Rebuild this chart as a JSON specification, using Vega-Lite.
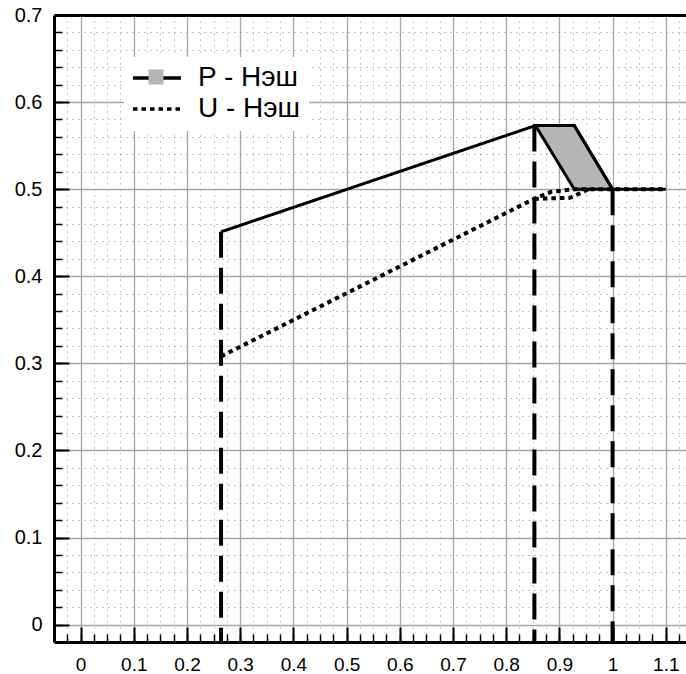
{
  "$schema": "https://vega.github.io/schema/vega-lite/v6.json",
  "width": 632,
  "height": 627,
  "autosize": "none",
  "padding": {"left": 54, "top": 15, "right": 0, "bottom": 32},
  "background": "white",
  "config": {
    "view": {"stroke": null},
    "font": "Liberation Sans",
    "axis": {"labelFont": "Liberation Sans", "labelColor": "black", "labelFlush": false, "labelOverlap": false, "title": null}
  },
  "layer": [
    {
      "data": {"values": [
        {"x": 0.855, "y": 0.573, "y2": 0.573, "s": "P - Нэш"},
        {"x": 0.928, "y": 0.573, "y2": 0.5, "s": "P - Нэш"},
        {"x": 1.0, "y": 0.5, "y2": 0.5, "s": "P - Нэш"}
      ]},
      "mark": {"type": "area", "stroke": "black", "strokeWidth": 3, "strokeJoin": "miter", "opacity": 1},
      "encoding": {
        "x": {"field": "x", "type": "quantitative",
          "scale": {"domain": [-0.05, 1.138], "nice": false, "zero": false},
          "axis": {"orient": "bottom", "values": [-0.025,0,0.025,0.05,0.075,0.1,0.125,0.15,0.175,0.2,0.225,0.25,0.275,0.3,0.325,0.35,0.375,0.4,0.425,0.45,0.475,0.5,0.525,0.55,0.575,0.6,0.625,0.65,0.675,0.7,0.725,0.75,0.775,0.8,0.825,0.85,0.875,0.9,0.925,0.95,0.975,1,1.025,1.05,1.075,1.1,1.125],
            "labels": false, "domain": false, "tickSize": -8, "tickWidth": 1.5, "tickColor": "black",
            "grid": true, "gridColor": "#8c8c8c", "gridDash": [1, 5], "gridWidth": 1}},
        "y": {"field": "y", "type": "quantitative",
          "scale": {"domain": [-0.02, 0.7], "nice": false, "zero": false},
          "axis": {"orient": "left", "values": [0,0.02,0.04,0.06,0.08,0.1,0.12,0.14,0.16,0.18,0.2,0.22,0.24,0.26,0.28,0.3,0.32,0.34,0.36,0.38,0.4,0.42,0.44,0.46,0.48,0.5,0.52,0.54,0.56,0.58,0.6,0.62,0.64,0.66,0.68,0.7],
            "labels": false, "domain": false, "tickSize": -8, "tickWidth": 1.5, "tickColor": "black",
            "grid": true, "gridColor": "#8c8c8c", "gridDash": [1, 5], "gridWidth": 1}},
        "y2": {"field": "y2"},
        "fill": {"field": "s", "type": "nominal",
          "scale": {"domain": ["P - Нэш"], "range": ["#b5b5b5"]},
          "legend": {"orient": "none", "legendX": 94.5, "legendY": 54.5, "title": null,
            "symbolType": "square", "symbolSize": 225, "symbolStrokeWidth": 0, "symbolOpacity": 1,
            "labelExpr": "''", "labelFontSize": 15, "padding": 0, "zindex": 2}}
      }
    },
    {
      "data": {"values": [
        {"x": 0.264, "y": 0.451, "s": "P - Нэш"},
        {"x": 0.855, "y": 0.573, "s": "P - Нэш"},
        {"x": 0.928, "y": 0.573, "s": "P - Нэш"},
        {"x": 1.0, "y": 0.5, "s": "P - Нэш"},
        {"x": 1.1, "y": 0.5, "s": "P - Нэш"}
      ]},
      "mark": {"type": "line", "color": "black", "strokeWidth": 3, "strokeJoin": "miter"},
      "encoding": {
        "x": {"field": "x", "type": "quantitative",
          "scale": {"domain": [-0.05, 1.138], "nice": false, "zero": false},
          "axis": {"orient": "bottom", "values": [0,0.1,0.2,0.3,0.4,0.5,0.6,0.7,0.8,0.9,1,1.1], "format": "~g",
            "domain": true, "domainColor": "black", "domainWidth": 3,
            "tickSize": -15, "tickWidth": 2, "tickColor": "black",
            "grid": true, "gridColor": "#a6a6a6", "gridWidth": 1.3,
            "labelFontSize": 19, "labelPadding": 28}},
        "y": {"field": "y", "type": "quantitative",
          "scale": {"domain": [-0.02, 0.7], "nice": false, "zero": false},
          "axis": {"orient": "left", "values": [0,0.1,0.2,0.3,0.4,0.5,0.6,0.7], "format": "~g",
            "domain": true, "domainColor": "black", "domainWidth": 3,
            "tickSize": -15, "tickWidth": 2, "tickColor": "black",
            "grid": true, "gridColor": "#a6a6a6", "gridWidth": 1.3,
            "labelFontSize": 20, "labelPadding": 27}},
        "strokeDash": {"field": "s", "type": "nominal",
          "scale": {"domain": ["P - Нэш", "U - Нэш"], "range": [[1, 0], [4.5, 4]]},
          "legend": {"orient": "none", "legendX": 70, "legendY": 42, "title": null,
            "symbolType": "M-1,0H3", "symbolSize": 576, "symbolStrokeWidth": 3.5, "symbolStrokeColor": "black", "symbolFillColor": "transparent",
            "labelFontSize": 28, "labelFont": "Liberation Sans", "labelColor": "black", "labelOffset": 39, "labelLimit": 300,
            "rowPadding": 3, "padding": 7, "fillColor": "white", "strokeColor": "white", "zindex": 1}}
      }
    },
    {
      "data": {"values": [
        {"x": 0.264, "y": 0.308, "p": "a", "s": "U - Нэш"},
        {"x": 0.853, "y": 0.489, "p": "a", "s": "U - Нэш"},
        {"x": 0.885, "y": 0.497, "p": "a", "s": "U - Нэш"},
        {"x": 0.93, "y": 0.5, "p": "a", "s": "U - Нэш"},
        {"x": 1.1, "y": 0.5, "p": "a", "s": "U - Нэш"},
        {"x": 0.853, "y": 0.489, "p": "b", "s": "U - Нэш"},
        {"x": 0.92, "y": 0.49, "p": "b", "s": "U - Нэш"},
        {"x": 0.955, "y": 0.5, "p": "b", "s": "U - Нэш"}
      ]},
      "mark": {"type": "line", "color": "black", "strokeWidth": 4, "strokeCap": "butt"},
      "encoding": {
        "x": {"field": "x", "type": "quantitative",
          "scale": {"domain": [-0.05, 1.138], "nice": false, "zero": false},
          "axis": {"orient": "top", "labels": false, "ticks": false, "grid": false,
            "domain": true, "domainColor": "black", "domainWidth": 3}},
        "y": {"field": "y", "type": "quantitative",
          "scale": {"domain": [-0.02, 0.7], "nice": false, "zero": false}, "axis": null},
        "detail": {"field": "p"},
        "strokeDash": {"field": "s", "type": "nominal",
          "scale": {"domain": ["P - Нэш", "U - Нэш"], "range": [[1, 0], [4.5, 4]]},
          "legend": {"orient": "none", "legendX": 70, "legendY": 42, "title": null,
            "symbolType": "M-1,0H3", "symbolSize": 576, "symbolStrokeWidth": 3.5, "symbolStrokeColor": "black", "symbolFillColor": "transparent",
            "labelFontSize": 28, "labelFont": "Liberation Sans", "labelColor": "black", "labelOffset": 39, "labelLimit": 300,
            "rowPadding": 3, "padding": 7, "fillColor": "white", "strokeColor": "white", "zindex": 1}}
      }
    },
    {
      "data": {"values": [
        {"x": 0.264, "y": 0.451},
        {"x": 0.853, "y": 0.573},
        {"x": 1.0, "y": 0.5}
      ]},
      "mark": {"type": "rule", "color": "black", "strokeWidth": 4, "strokeDash": [26, 10]},
      "encoding": {
        "x": {"field": "x", "type": "quantitative",
          "scale": {"domain": [-0.05, 1.138], "nice": false, "zero": false}, "axis": null},
        "y": {"field": "y", "type": "quantitative",
          "scale": {"domain": [-0.02, 0.7], "nice": false, "zero": false}, "axis": null},
        "y2": {"datum": -0.02}
      }
    }
  ],
  "resolve": {"axis": {"x": "independent", "y": "independent"}}
}
